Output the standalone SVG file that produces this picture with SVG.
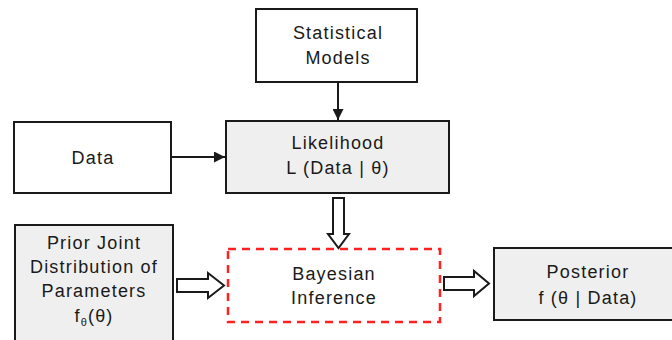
<svg xmlns="http://www.w3.org/2000/svg" width="672" height="340" viewBox="0 0 672 340">
<style>
.box{stroke:#1a1a1a;stroke-width:2;}
.w{fill:#ffffff;}
.g{fill:#efefef;}
.dash{fill:#ffffff;stroke:#ff2020;stroke-width:2.5;stroke-dasharray:8,6;}
text{font-family:"Liberation Sans",Arial,sans-serif;font-size:18px;letter-spacing:1.2px;fill:#1a1a1a;text-anchor:middle;}
.hollow{fill:#ffffff;stroke:#1a1a1a;stroke-width:2;stroke-linejoin:miter;}
.line{stroke:#1a1a1a;stroke-width:2;fill:none;}
</style>
<defs>
<marker id="ah" viewBox="0 0 10 10" refX="10" refY="5" markerWidth="5.5" markerHeight="5.5" orient="auto" markerUnits="strokeWidth">
<path d="M0,0 L10,5 L0,10 z" fill="#1a1a1a"/>
</marker>
</defs>
<rect width="672" height="340" fill="#ffffff"/>
<g id="statistical-models">
<rect class="box w" x="256" y="9" width="161" height="73"/>
<text x="338" y="39">Statistical</text>
<text x="338" y="64">Models</text>
</g>
<g id="data">
<rect class="box w" x="14" y="122" width="157" height="71"/>
<text x="93" y="164">Data</text>
</g>
<g id="likelihood">
<rect class="box g" x="226" y="121" width="223" height="72"/>
<text x="338" y="149">Likelihood</text>
<text x="338" y="174">L (Data | θ)</text>
</g>
<g id="prior">
<rect class="box g" x="15" y="225" width="158" height="130"/>
<text x="94" y="249">Prior Joint</text>
<text x="94" y="273">Distribution of</text>
<text x="94" y="297">Parameters</text>
<text x="94" y="322">f<tspan font-size="11" dy="4">θ</tspan><tspan dy="-4">(θ)</tspan></text>
</g>
<g id="bayesian-inference">
<rect class="dash" x="228" y="249" width="212" height="73"/>
<text x="334" y="280">Bayesian</text>
<text x="334" y="304">Inference</text>
</g>
<g id="posterior">
<rect class="box g" x="494" y="248" width="184" height="72"/>
<text x="588" y="278">Posterior</text>
<text x="588" y="304">f (θ | Data)</text>
</g>
<g id="connectors">
<line class="line" x1="338" y1="82" x2="338" y2="120" marker-end="url(#ah)"/>
<line class="line" x1="171" y1="157" x2="225" y2="157" marker-end="url(#ah)"/>
<path class="hollow" d="M333,198 L344,198 L344,234 L349,234 L338.5,248 L328,234 L333,234 Z"/>
<path class="hollow" d="M177,279 L208,279 L208,273 L224,285.5 L208,298 L208,292 L177,292 Z"/>
<path class="hollow" d="M444,277 L474,277 L474,271 L489,283.5 L474,296 L474,290 L444,290 Z"/>
</g>
</svg>
